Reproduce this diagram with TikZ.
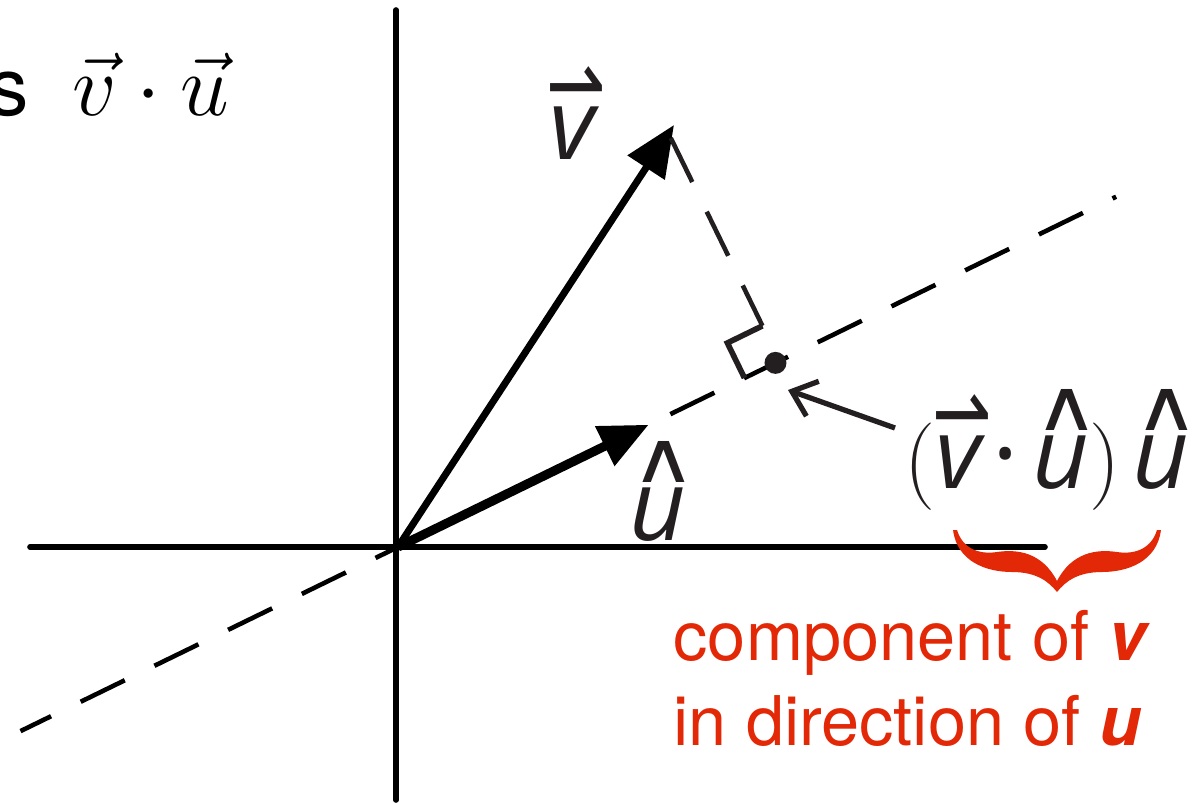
\documentclass[tikz,border=0pt]{standalone}
\usepackage{graphicx}
\usepackage{fontspec}
\setmainfont{TeX Gyre Heros}
\newfontfamily\labelfont{Open Sans}
\newfontfamily\accfont{DejaVu Sans}
\usetikzlibrary{arrows.meta,calc}
\definecolor{compred}{RGB}{226,40,6}
\definecolor{inkgray}{RGB}{35,31,32}
\newcommand{\harpvec}[1]{\ooalign{#1\cr\hidewidth\kern0.08em\raisebox{0.42em}{\scalebox{0.72}[1.0]{\accfont\upshape ⇀}}\hidewidth\cr}}
\newcommand{\caphat}[1]{\ooalign{#1\cr\hidewidth\kern0.12em\raisebox{0.58em}{\scalebox{0.9}[0.72]{\accfont\upshape ∧}}\hidewidth\cr}}
\tikzset{lbl/.style={inkgray, inner sep=0pt, font=\labelfont\itshape\fontsize{28}{34}\selectfont}}

\begin{document}
\begin{tikzpicture}[x=1cm,y=1cm]
  \useasboundingbox (-3.98,-2.55) rectangle (7.97,5.47);
  \coordinate (O) at (0,0);
  \coordinate (vtip) at (2.76,4.22);
  \coordinate (utip) at (26:2.79);
  \coordinate (foot) at (26:4.245);
  \coordinate (perptop) at ($(foot)+(116:2.48)$);
  \coordinate (mkA) at ($(foot)+(116:0.39)$);
  \coordinate (mkB) at ($(mkA)+(206:0.39)$);
  \coordinate (mkC) at ($(foot)+(206:0.39)$);
  \coordinate (ptail) at (4.97,1.19);
  \coordinate (ptip) at (3.90,1.57);

  \draw[line width=1.6pt, line cap=round] (-3.68,0) -- (6.47,0);
  \draw[line width=1.6pt, line cap=round] (-0.02,-2.53) -- (-0.02,5.37);
  \draw[line width=1.3pt, dash pattern=on 0.49cm off 0.33cm, dash phase=0.15cm] (206:4.2) -- (26:7.99);

  \draw[line width=2pt, -{Triangle[length=0.51cm,width=0.43cm]}] (O) -- (vtip);
  \draw[line width=2.6pt, -{Triangle[length=0.49cm,width=0.42cm]}] (O) -- (utip);

  \draw[inkgray, line width=1.3pt, dash pattern=on 0.49cm off 0.33cm] (perptop) -- (mkA);
  \draw[inkgray, line width=1.6pt] (mkA) -- (mkB) -- (mkC);
  \node[circle, fill=inkgray, inner sep=0pt, minimum size=0.22cm] (footdot) at (26:4.2) {};
  \draw[inkgray, line width=1.5pt, -{Straight Barb[length=0.22cm,width=0.37cm]}] (ptail) -- (ptip);

  \node[lbl, anchor=base] (vlbl) at (1.74,3.87) {\harpvec{v}};
  \node[lbl, anchor=base] (ulbl) at (2.60,0.07) {\caphat{u}};
  \node[lbl, anchor=base west] (projlbl) at (5.06,0.59) {$($\harpvec{v}\kern0.12em{\upshape·}\kern0.14em\caphat{u}$)$\kern0.12em\caphat{u}};

  \node[anchor=base east, inner sep=0pt, font=\fontsize{23}{28}\selectfont] (dotlbl) at (-1.68,4.31) {s\hspace{0.55em}$\vec v\cdot\vec u$};

  \fill[compred, shift={(6.59,-0.45)}, x=0.01cm, y=-0.01cm] (0,0)
    .. controls (-8,-10) and (-20,-20) .. (-45,-20)
    .. controls (-70,-20) and (-100,-30) .. (-104,-62) -- (-100,-62)
    .. controls (-95,-45) and (-80,-37) .. (-60,-40)
    .. controls (-40,-43) and (-15,-40) .. (0,-11)
    .. controls (15,-40) and (40,-43) .. (60,-40)
    .. controls (80,-37) and (95,-45) .. (100,-62) -- (104,-62)
    .. controls (100,-30) and (70,-20) .. (45,-20)
    .. controls (20,-20) and (8,-10) .. (0,0) -- cycle;
  \node[anchor=base west, align=left, inner sep=0pt, text=compred, font=\fontsize{19.5}{24}\selectfont] (compnote) at (2.75,-1.98) {component of \textbf{\textit{v}}\\in direction of \textbf{\textit{u}}};
\end{tikzpicture}
\end{document}
